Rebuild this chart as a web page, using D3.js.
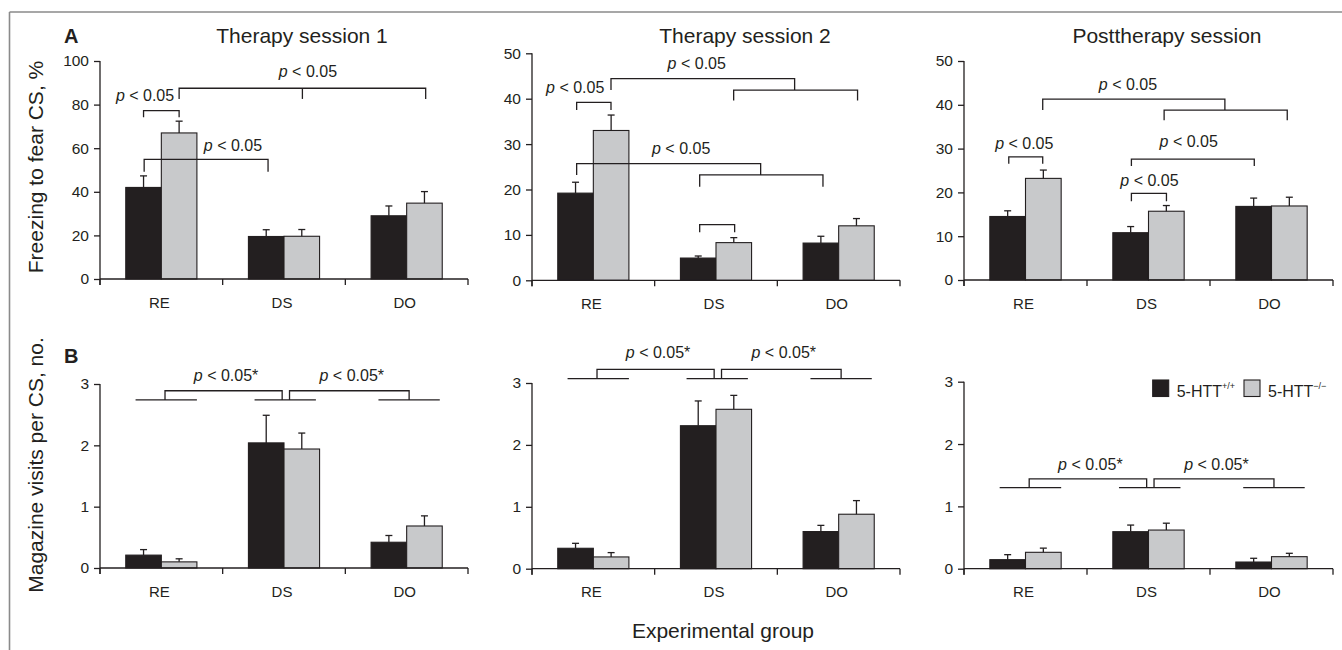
<!DOCTYPE html>
<html><head><meta charset="utf-8">
<script src="https://cdn.jsdelivr.net/npm/d3@7"></script>
<style>
html,body{margin:0;padding:0;background:#fff;}
svg{display:block;font-family:"Liberation Sans",Arial,Helvetica,sans-serif;}
</style></head>
<body>
<svg id="chart" width="1342" height="650"></svg>
<script>
// ---------------- data ----------------
const categories = ["RE", "DS", "DO"];
const sessions = ["Therapy session 1", "Therapy session 2", "Posttherapy session"];
const genotypes = ["wt", "ko"];

// Freezing to fear CS, % (mean, SEM) per session
const freezeWT    = [[42.0, 19.5, 29.0], [19.2, 4.9, 8.2], [14.5, 10.8, 16.8]];
const freezeWTsem = [[5.3, 3.1, 4.5],    [2.4, 0.45, 1.5], [1.3, 1.4, 1.9]];
const freezeKO    = [[67.0, 19.6, 34.8], [33.0, 8.3, 12.0], [23.2, 15.7, 16.9]];
const freezeKOsem = [[5.4, 3.1, 5.3],    [3.4, 1.1, 1.6],  [1.9, 1.3, 2.0]];

// Magazine visits per CS, no. (mean, SEM) per session
const visitsWT    = [[0.21, 2.04, 0.42], [0.33, 2.31, 0.60], [0.145, 0.594, 0.107]];
const visitsWTsem = [[0.09, 0.45, 0.11], [0.08, 0.40, 0.10], [0.08, 0.106, 0.06]];
const visitsKO    = [[0.10, 1.94, 0.685], [0.19, 2.575, 0.88], [0.263, 0.62, 0.193]];
const visitsKOsem = [[0.05, 0.26, 0.165], [0.07, 0.225, 0.22], [0.067, 0.11, 0.054]];

const freezeTicks = [[0, 20, 40, 60, 80, 100], [0, 10, 20, 30, 40, 50], [0, 10, 20, 30, 40, 50]];
const visitsTicks = [0, 1, 2, 3];

// significance brackets, A row: polylines in (category position, value)
const freezeBrackets = [
  [ {lines: [[[0.355, 74.2], [0.355, 77.2], [0.645, 77.2], [0.645, 74.2]]], label: [0.367, 81.8]},
    {lines: [[[0.645, 82.6], [0.645, 87.5], [2.655, 87.5], [2.655, 82.6]], [[1.65, 87.5], [1.65, 82.6]]], label: [1.695, 92.7]},
    {lines: [[[0.36, 49.2], [0.36, 54.9], [1.37, 54.9], [1.37, 49.2]]], label: [1.084, 58.9]} ],
  [ {lines: [[[0.364, 37.5], [0.364, 39.2], [0.644, 39.2], [0.644, 37.5]]], label: [0.352, 41.3]},
    {lines: [[[0.644, 41.9], [0.644, 44.4], [2.141, 44.4], [2.141, 41.9]], [[1.644, 39.6], [1.644, 41.9], [2.654, 41.9], [2.654, 39.6]]], label: [1.343, 46.5]},
    {lines: [[[0.364, 23.2], [0.364, 25.7], [1.864, 25.7], [1.864, 23.2]], [[1.367, 20.6], [1.367, 23.2], [2.372, 23.2], [2.372, 20.6]]], label: [1.216, 27.8]},
    {lines: [[[1.367, 10.6], [1.367, 12.25], [1.652, 12.25], [1.652, 10.6]]], label: null} ],
  [ {lines: [[[0.364, 26.55], [0.364, 28.1], [0.64, 28.1], [0.64, 26.55]]], label: [0.49, 29.9]},
    {lines: [[[0.64, 38.8], [0.64, 41.3], [2.121, 41.3], [2.121, 38.8]], [[1.627, 36.5], [1.627, 38.8], [2.628, 38.8], [2.628, 36.5]]], label: [1.333, 43.4]},
    {lines: [[[1.361, 26.0], [1.361, 27.6], [2.36, 27.6], [2.36, 26.0]]], label: [1.827, 30.4]},
    {lines: [[[1.361, 18.0], [1.361, 19.8], [1.646, 19.8], [1.646, 18.0]]], label: [1.508, 21.5]} ]
];
// B row brackets: value of group lines, bracket top, label baseline
const visitsLineV  = [2.74, 3.07, 1.30];
const visitsTopV   = [2.89, 3.22, 1.44];
const visitsLabelV = [3.05, 3.41, 1.58];
const groupLineSpan = [[0.29, 0.79], [1.26, 1.76], [2.27, 2.77]];
const visitsLegs = [[0.53, 1.485], [1.545, 2.52]];

// ---------------- layout ----------------
const W = 1342, H = 650;
const ink = "#231f20", grey = "#c8c9cb";
const colX = [[100, 468], [532, 900], [964, 1333]];
const rowAy = [[279, 61], [280.3, 53.3], [280, 61]];
const rowBy = [[568, 384], [568.7, 383], [568.7, 381.7]];
const titleX = [302, 745, 1167];

const svg = d3.select("#chart");

// outer frame (top and left)
svg.append("line").attr("x1", 9.5).attr("x2", W).attr("y1", 12).attr("y2", 12)
  .attr("stroke", "#8a8a8a").attr("stroke-width", 1.6);
svg.append("line").attr("x1", 9.5).attr("x2", 9.5).attr("y1", 12).attr("y2", H)
  .attr("stroke", "#8a8a8a").attr("stroke-width", 1.6);

function drawPanel(p, yr, means, sems, ticks) {
  const [x0, x1] = colX[p];
  const x = d3.scaleBand().domain(categories).range([x0, x1]).paddingInner(0).paddingOuter(0);
  const bw = x.bandwidth();
  const xg = d3.scaleBand().domain(genotypes).range([0.21 * bw, 0.79 * bw]).padding(0);
  const pos = d3.scaleLinear().domain([0, 3]).range([x0, x1]);
  const y = d3.scaleLinear().domain([0, ticks[ticks.length - 1]]).range(yr);
  const g = svg.append("g");

  // bars
  const rows = [];
  categories.forEach((c, i) => {
    genotypes.forEach((gt, j) => rows.push({c, gt, m: means[j][i], s: sems[j][i]}));
  });
  g.selectAll("rect.bar").data(rows).enter().append("rect")
    .attr("x", d => x(d.c) + xg(d.gt))
    .attr("width", xg.bandwidth())
    .attr("y", d => y(d.m))
    .attr("height", d => y(0) - y(d.m))
    .attr("fill", d => d.gt === "wt" ? ink : grey)
    .attr("stroke", ink).attr("stroke-width", 1.1);
  // error bars (upper)
  rows.forEach(d => {
    const cx = x(d.c) + xg(d.gt) + xg.bandwidth() / 2;
    g.append("line").attr("x1", cx).attr("x2", cx).attr("y1", y(d.m)).attr("y2", y(d.m + d.s))
      .attr("stroke", ink).attr("stroke-width", 1.3);
    g.append("line").attr("x1", cx - 3.5).attr("x2", cx + 3.5).attr("y1", y(d.m + d.s)).attr("y2", y(d.m + d.s))
      .attr("stroke", ink).attr("stroke-width", 1.3);
  });

  // y axis
  const ya = g.append("g").attr("transform", `translate(${x0},0)`)
    .call(d3.axisLeft(y).tickValues(ticks).tickFormat(d3.format("d")).tickSize(6).tickSizeOuter(0).tickPadding(5));
  ya.select(".domain").attr("stroke", ink).attr("stroke-width", 1.3)
    .attr("d", `M0,${y(ticks[ticks.length - 1])}V${y(0) + 6}`);
  ya.selectAll(".tick line").attr("stroke", ink).attr("stroke-width", 1.3);
  ya.selectAll(".tick text").attr("fill", ink).attr("font-size", 15.5)
    .attr("font-family", "Liberation Sans, Arial, sans-serif");

  // x axis
  const xa = g.append("g").attr("transform", `translate(0,${y(0)})`);
  xa.append("line").attr("x1", x0).attr("x2", x1).attr("stroke", ink).attr("stroke-width", 1.3);
  [0, 1, 2, 3].forEach(k => xa.append("line").attr("x1", pos(k)).attr("x2", pos(k))
    .attr("y1", 0).attr("y2", 6).attr("stroke", ink).attr("stroke-width", 1.3));
  categories.forEach(c => xa.append("text").attr("x", x(c) + bw / 2 - 2).attr("y", 28.5)
    .attr("text-anchor", "middle").attr("font-size", 15).attr("fill", ink).text(c));

  return {g, pos, y};
}

function pText(sel, star) {
  sel.append("tspan").attr("font-style", "italic").text("p");
  sel.append("tspan").text(" < 0.05" + (star ? "*" : ""));
}

for (let p = 0; p < 3; p++) {
  // ----- row A -----
  const A = drawPanel(p, rowAy[p], [freezeWT[p], freezeKO[p]], [freezeWTsem[p], freezeKOsem[p]], freezeTicks[p]);
  const line = d3.line().x(d => A.pos(d[0])).y(d => A.y(d[1]));
  freezeBrackets[p].forEach(b => {
    b.lines.forEach(l => A.g.append("path").attr("d", line(l)).attr("fill", "none")
      .attr("stroke", ink).attr("stroke-width", 1.3));
    if (b.label) {
      const t = A.g.append("text").attr("x", A.pos(b.label[0])).attr("y", A.y(b.label[1]))
        .attr("text-anchor", "middle").attr("font-size", 16).attr("fill", ink);
      pText(t, false);
    }
  });
  svg.append("text").attr("x", titleX[p]).attr("y", 43).attr("text-anchor", "middle")
    .attr("font-size", 21).attr("fill", ink).text(sessions[p]);

  // ----- row B -----
  const B = drawPanel(p, rowBy[p], [visitsWT[p], visitsKO[p]], [visitsWTsem[p], visitsKOsem[p]], visitsTicks);
  groupLineSpan.forEach(s => B.g.append("line")
    .attr("x1", B.pos(s[0])).attr("x2", B.pos(s[1]))
    .attr("y1", B.y(visitsLineV[p])).attr("y2", B.y(visitsLineV[p]))
    .attr("stroke", ink).attr("stroke-width", 1.3));
  visitsLegs.forEach(l => {
    const path = d3.line().x(d => B.pos(d[0])).y(d => B.y(d[1]))(
      [[l[0], visitsLineV[p]], [l[0], visitsTopV[p]], [l[1], visitsTopV[p]], [l[1], visitsLineV[p]]]);
    B.g.append("path").attr("d", path).attr("fill", "none").attr("stroke", ink).attr("stroke-width", 1.3);
    const t = B.g.append("text").attr("x", B.pos((l[0] + l[1]) / 2 + 0.02)).attr("y", B.y(visitsLabelV[p]))
      .attr("text-anchor", "middle").attr("font-size", 16).attr("fill", ink);
    pText(t, true);
  });
}

// panel letters
svg.append("text").attr("x", 64).attr("y", 43).attr("font-size", 20).attr("font-weight", "bold").attr("fill", ink).text("A");
svg.append("text").attr("x", 64).attr("y", 363).attr("font-size", 20).attr("font-weight", "bold").attr("fill", ink).text("B");

// axis titles
svg.append("text").attr("transform", "translate(43,167) rotate(-90)").attr("text-anchor", "middle")
  .attr("font-size", 21).attr("fill", ink).text("Freezing to fear CS, %");
svg.append("text").attr("transform", "translate(43,465) rotate(-90)").attr("text-anchor", "middle")
  .attr("font-size", 21).attr("fill", ink).text("Magazine visits per CS, no.");
svg.append("text").attr("x", 723).attr("y", 638).attr("text-anchor", "middle")
  .attr("font-size", 21).attr("fill", ink).text("Experimental group");

// legend
const legendItems = [{fill: ink, base: "5-HTT", sup: "+/+", x: 1152.7}, {fill: grey, base: "5-HTT", sup: "\u2212/\u2212", x: 1244}];
legendItems.forEach(it => {
  svg.append("rect").attr("x", it.x).attr("y", 380).attr("width", 16).attr("height", 16.5)
    .attr("fill", it.fill).attr("stroke", ink).attr("stroke-width", 1.1);
  const t = svg.append("text").attr("x", it.x + 24).attr("y", 396.5).attr("font-size", 16).attr("fill", ink);
  t.append("tspan").text(it.base);
  t.append("tspan").attr("font-size", 9).attr("dy", -8).text(it.sup);
});
</script>
</body></html>
